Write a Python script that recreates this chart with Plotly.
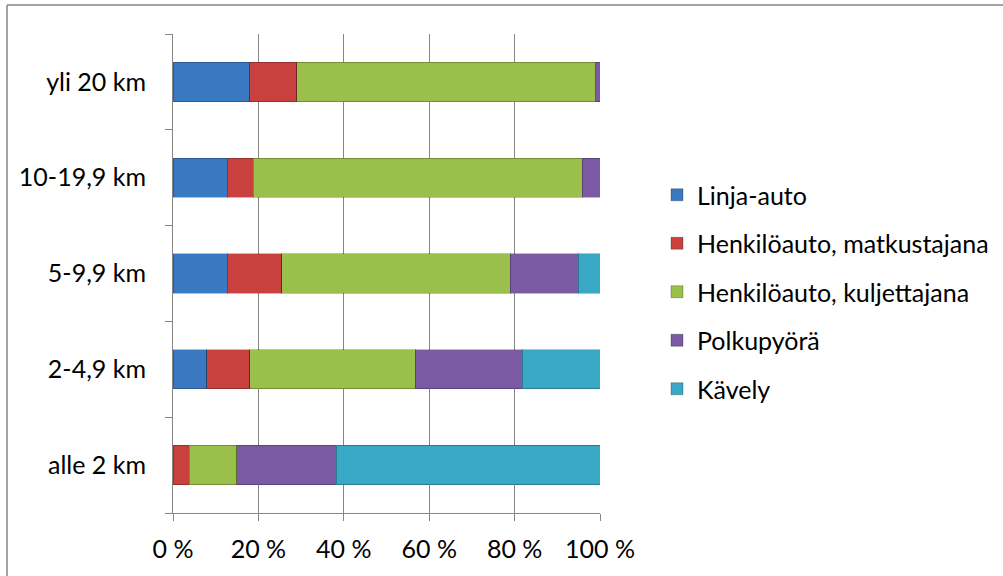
import plotly.graph_objects as go

# Distance classes, listed bottom to top
distances = ["alle 2 km", "2-4,9 km", "5-9,9 km", "10-19,9 km", "yli 20 km"]

# Share of trips (%) by mode for each distance class
linja_auto = [0.0, 7.9, 12.7, 12.7, 18.0]
matkustajana = [3.8, 10.1, 12.8, 6.1, 11.0]
kuljettajana = [11.1, 38.7, 53.5, 77.1, 70.0]
polkupyora = [23.3, 25.1, 15.9, 4.1, 1.0]
kavely = [61.8, 18.2, 5.1, 0.0, 0.0]

# Percentage axis ticks
x_ticks = [0, 20, 40, 60, 80, 100]
x_tick_labels = [f"{t} %" for t in x_ticks]

modes = [
    ("Linja-auto", linja_auto, "#3b78c2"),
    ("Henkilöauto, matkustajana", matkustajana, "#c9413f"),
    ("Henkilöauto, kuljettajana", kuljettajana, "#9bbf4b"),
    ("Polkupyörä", polkupyora, "#7a5aa3"),
    ("Kävely", kavely, "#38a8c6"),
]

FONT = "Lato, 'Open Sans', sans-serif"
FS = 25
W, H = 1003, 576
ML, MR, MT, MB = 173, 403, 34, 63
PW, PH = W - ML - MR, H - MT - MB


def px_to_paper_x(px):
    return (px - ML) / PW


def px_to_paper_y(py):
    return (H - MB - py) / PH


fig = go.Figure()
for i, (name, vals, color) in enumerate(modes):
    fig.add_trace(go.Bar(
        y=distances,
        x=vals,
        name=name,
        orientation="h",
        legendgroup=f"g{i}",
        marker=dict(color=color, line=dict(color="rgba(0,0,0,0.25)", width=1)),
    ))

# Frame around the chart: only the top and left edges fall inside the page
frame = dict(color="#868686", width=1.5)
fig.update_layout(
    width=W,
    height=H,
    barmode="stack",
    bargap=0.59,
    margin=dict(l=ML, r=MR, t=MT, b=MB, pad=0, autoexpand=False),
    paper_bgcolor="white",
    plot_bgcolor="white",
    font=dict(family=FONT, size=FS, color="#000000"),
    legend=dict(
        x=px_to_paper_x(657),
        xanchor="left",
        y=px_to_paper_y(292),
        yanchor="middle",
        traceorder="grouped",
        tracegroupgap=13,
        font=dict(family=FONT, size=FS, color="#000000"),
        bgcolor="rgba(0,0,0,0)",
    ),
    showlegend=True,
    shapes=[
        dict(type="line", xref="paper", yref="paper",
             x0=px_to_paper_x(7), x1=px_to_paper_x(1003),
             y0=px_to_paper_y(5), y1=px_to_paper_y(5), line=frame),
        dict(type="line", xref="paper", yref="paper",
             x0=px_to_paper_x(7), x1=px_to_paper_x(7),
             y0=px_to_paper_y(5), y1=px_to_paper_y(576), line=frame),
    ],
)

fig.update_xaxes(
    range=[0, 100],
    tickmode="array",
    tickvals=x_ticks,
    ticktext=x_tick_labels,
    showgrid=True,
    gridcolor="#868686",
    gridwidth=1,
    zeroline=False,
    showline=True,
    linecolor="#868686",
    linewidth=1,
    ticks="outside",
    ticklen=7,
    tickcolor="#868686",
    ticklabelstandoff=7,
    tickfont=dict(family=FONT, size=FS, color="#000000"),
)

fig.update_yaxes(
    categoryorder="array",
    categoryarray=distances,
    showgrid=False,
    zeroline=False,
    showline=True,
    linecolor="#868686",
    linewidth=1,
    ticks="outside",
    tickson="boundaries",
    ticklen=7,
    tickcolor="#868686",
    ticklabelstandoff=21,
    tickfont=dict(family=FONT, size=FS, color="#000000"),
)

fig.write_html("out.html")
